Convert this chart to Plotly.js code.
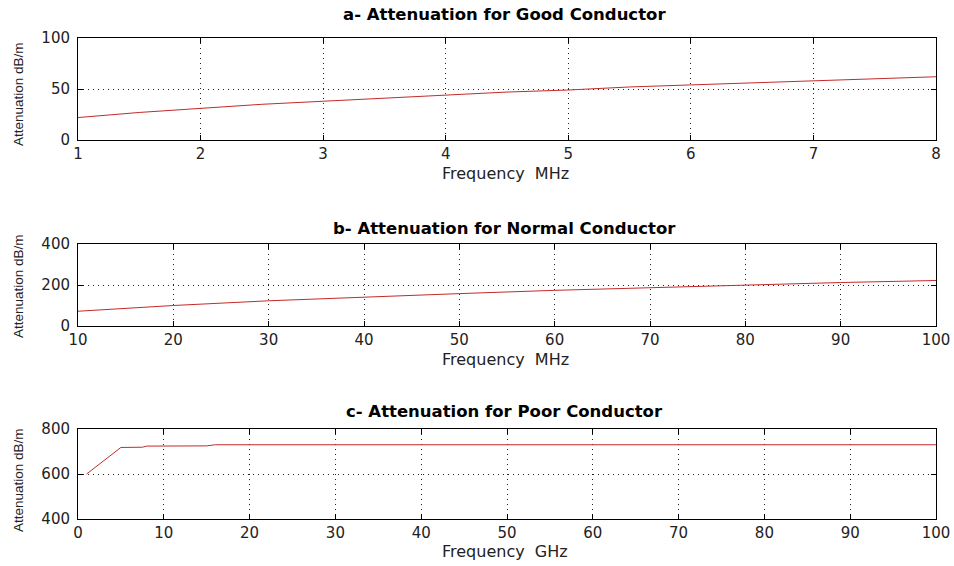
<!DOCTYPE html>
<html>
<head>
<meta charset="utf-8">
<script src="https://cdn.plot.ly/plotly-3.0.1.min.js"></script>
<style>html,body{margin:0;padding:0;background:#fff;}#chart{width:954px;height:566px;}</style>
</head>
<body>
<div id="chart"></div>
<script>
// Panel a: good conductor (frequency in MHz, attenuation dB/m)
const goodFreq = [1, 1.5, 2, 2.5, 3, 3.5, 4, 4.5, 5, 5.5, 6, 6.5, 7, 7.5, 8];
const goodAtt  = [22, 27, 31, 35, 38, 41, 44, 47, 49, 52, 54, 56, 58, 60, 62];
// Panel b: normal conductor (frequency in MHz)
const normFreq = [10, 20, 30, 40, 50, 60, 70, 80, 90, 100];
const normAtt  = [72, 100, 123, 142, 158, 174, 187, 200, 212, 222];
// Panel c: poor conductor (frequency in GHz)
const poorFreq = [1, 3, 5, 7.5, 8, 15, 16, 100];
const poorAtt  = [600, 658, 718, 719, 724, 725, 730, 730];

const titles = ['a- Attenuation for Good Conductor', 'b- Attenuation for Normal Conductor', 'c- Attenuation for Poor Conductor'];
const xTitles = ['Frequency&nbsp; MHz', 'Frequency&nbsp; MHz', 'Frequency&nbsp; GHz'];
const yTitle = 'Attenuation dB/m';
const xTicks = [[1,2,3,4,5,6,7,8], [10,20,30,40,50,60,70,80,90,100], [0,10,20,30,40,50,60,70,80,90,100]];
const yTicks = [[0,50,100], [0,200,400], [400,600,800]];

const lineColor = '#c42a2a';
const font = 'DejaVu Sans, Verdana, sans-serif';
const font2 = 'Liberation Sans, Arial, sans-serif';

const traces = [
  {x: goodFreq, y: goodAtt, xaxis: 'x', yaxis: 'y'},
  {x: normFreq, y: normAtt, xaxis: 'x2', yaxis: 'y2'},
  {x: poorFreq, y: poorAtt, xaxis: 'x3', yaxis: 'y3'}
].map(t => Object.assign(t, {type: 'scatter', mode: 'lines', line: {color: lineColor, width: 1}, hoverinfo: 'skip', showlegend: false}));

function common(ticks) {
  return {
    range: [ticks[0], ticks[ticks.length-1]], tickvals: ticks, ticks: 'inside', ticklen: 5,
    tickcolor: '#000', showline: true, linecolor: '#000', linewidth: 1, mirror: 'ticks',
    showgrid: true, gridcolor: '#222', griddash: '1px,4px', gridwidth: 1, zeroline: false,
    tickfont: {family: font, size: 15, color: '#222'}, fixedrange: true
  };
}
function xax(ticks, anchor) {
  return Object.assign(common(ticks), {anchor: anchor, ticklabelstandoff: 0});
}
function yax(ticks, domain, anchor) {
  return Object.assign(common(ticks), {domain: domain, anchor: anchor, ticklabelstandoff: 4});
}

// pixel helpers (plot area: top 38, height 481)
const T = 38, H = 481, L = 78, W = 858;
const py = p => 1 - (p - T) / H;
const px = p => (p - L) / W;

const titleY = [15, 228, 411];
const xTitleY = [173, 359, 551];
const yTitleMid = [94, 286, 480];

const annotations = [];
for (let i = 0; i < 3; i++) {
  annotations.push({text: '<b>' + titles[i] + '</b>', xref: 'paper', yref: 'paper', x: px(504), y: py(titleY[i]), xanchor: 'center', yanchor: 'middle', showarrow: false, font: {family: font, size: 16.5, color: '#000'}});
  annotations.push({text: xTitles[i], xref: 'paper', yref: 'paper', x: px(505), y: py(xTitleY[i]), xanchor: 'center', yanchor: 'middle', showarrow: false, font: {family: font, size: 16, color: '#222'}});
  annotations.push({text: yTitle, xref: 'paper', yref: 'paper', x: px(18), y: py(yTitleMid[i]), xanchor: 'center', yanchor: 'middle', textangle: -90, showarrow: false, font: {family: font2, size: 13.5, color: '#222'}});
}

const layout = {
  width: 954, height: 566,
  margin: {l: L, r: 954 - 936, t: T, b: 566 - 519},
  paper_bgcolor: '#fff', plot_bgcolor: '#fff',
  xaxis: xax(xTicks[0], 'y'),
  yaxis: yax(yTicks[0], [py(140), 1], 'x'),
  xaxis2: xax(xTicks[1], 'y2'),
  yaxis2: yax(yTicks[1], [py(326), py(244)], 'x2'),
  xaxis3: xax(xTicks[2], 'y3'),
  yaxis3: yax(yTicks[2], [0, py(429)], 'x3'),
  annotations: annotations
};

Plotly.newPlot('chart', traces, layout, {staticPlot: true});
</script>
</body>
</html>
